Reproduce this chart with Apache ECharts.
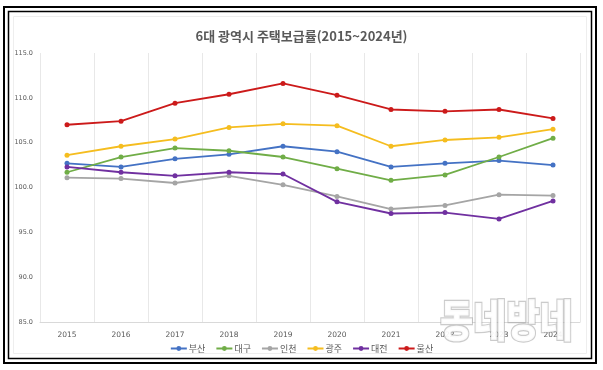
<!DOCTYPE html>
<html><head><meta charset="utf-8">
<script src="https://cdn.jsdelivr.net/npm/echarts@6/dist/echarts.min.js"></script>
<style>html,body{margin:0;padding:0;background:#fff}#c{width:603px;height:370px}</style>
</head><body><div id="c"></div>
<script>
const years = ['2015','2016','2017','2018','2019','2020','2021','2022','2023','2024'];
const busan   = [102.7,102.3,103.2,103.7,104.6,104.0,102.3,102.7,103.0,102.5];
const daegu   = [101.7,103.4,104.4,104.1,103.4,102.1,100.8,101.4,103.4,105.5];
const incheon = [101.1,101.0,100.5,101.3,100.3,99.0,97.6,98.0,99.2,99.1];
const gwangju = [103.6,104.6,105.4,106.7,107.1,106.9,104.6,105.3,105.6,106.5];
const daejeon = [102.3,101.7,101.3,101.7,101.5,98.4,97.1,97.2,96.5,98.5];
const ulsan   = [107.0,107.4,109.4,110.4,111.6,110.3,108.7,108.5,108.7,107.7];
const names = ['부산','대구','인천','광주','대전','울산'];
const seriesData = [busan,daegu,incheon,gwangju,daejeon,ulsan];
const colors = ['#4472C4','#70AD47','#A5A5A5','#F5BD1F','#7030A0','#CC1A1A'];

const chart = echarts.init(document.getElementById('c'));
chart.setOption({
  animation:false,
  color:colors,
  title:{text:'6대 광역시 주택보급률(2015~2024년)',left:'center',top:25,
    textStyle:{fontFamily:'Noto Sans CJK KR',fontSize:13,fontWeight:'bold',color:'#595959'}},
  grid:{left:40,right:23,top:53,bottom:48},
  legend:{bottom:12,left:'center',itemWidth:16,itemHeight:6,itemGap:10,
    textStyle:{fontFamily:'Noto Sans CJK KR',fontSize:9,color:'#595959',padding:[0,0,0,-3]},
    data:names},
  xAxis:{type:'category',data:years,boundaryGap:true,
    axisLine:{lineStyle:{color:'#d9d9d9'}},axisTick:{show:false},
    axisLabel:{fontFamily:'DejaVu Sans',fontSize:7.5,color:'#595959',margin:9},
    splitLine:{show:true,lineStyle:{color:'#e8e8e8',width:1}}},
  yAxis:{type:'value',min:85,max:115,interval:5,
    axisLine:{show:false},axisTick:{show:false},splitLine:{show:false},
    axisLabel:{fontFamily:'DejaVu Sans',fontSize:6.5,color:'#595959',margin:7,
      formatter:v=>v.toFixed(1)}},
  series:seriesData.map((d,i)=>({name:names[i],type:'line',data:d,symbol:'circle',symbolSize:5,
    lineStyle:{width:1.8},itemStyle:{color:colors[i]}})),
  graphic:[
    {type:'rect',shape:{x:4,y:7,width:592,height:356},style:{fill:'none',stroke:'#000',lineWidth:2}},
    {type:'rect',shape:{x:8.5,y:11.5,width:583,height:347},style:{fill:'none',stroke:'#000',lineWidth:1.5}},
    {type:'rect',shape:{x:13.5,y:16.5,width:573,height:337},style:{fill:'none',stroke:'#eeeeee',lineWidth:1}},
    {type:'text',x:440,y:298,scaleX:0.82,z:100,style:{text:'동네방네',fontFamily:'Noto Sans CJK KR',fontSize:44,fontWeight:900,
      fill:'rgba(255,255,255,0.92)',stroke:'rgba(160,160,160,0.55)',lineWidth:2.5}}
  ]
});
</script></body></html>
